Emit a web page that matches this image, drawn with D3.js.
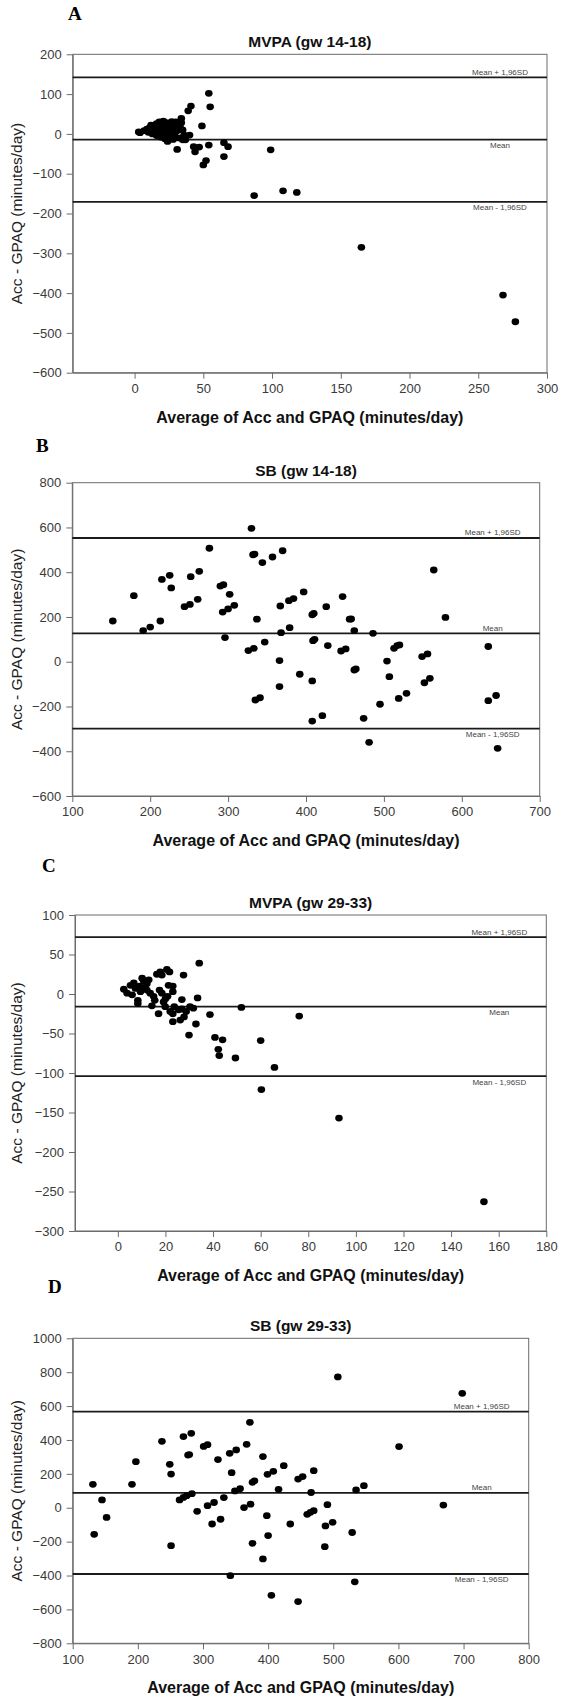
<!DOCTYPE html>
<html><head><meta charset="utf-8">
<script src="https://cdn.jsdelivr.net/npm/d3@7"></script>
<style>html,body{margin:0;padding:0;background:#fff;} svg{display:block;font-family:"Liberation Sans",Arial,sans-serif;}</style>
</head><body><svg id="chart" width="566" height="1701"></svg>
<script>
// ---- text ----
const panelLetters = ["A","B","C","D"];
const panelTitles = ["MVPA (gw 14-18)","SB (gw 14-18)","MVPA (gw 29-33)","SB (gw 29-33)"];
const xAxisLabel = "Average of Acc and GPAQ (minutes/day)";
const yAxisLabel = "Acc - GPAQ (minutes/day)";
const limitLabels = ["Mean + 1,96SD","Mean","Mean - 1,96SD"];

// ---- Panel A: MVPA gw 14-18 ----
const aAvg = [3,4,7,9,10,11,12,12,13,14,15,15,16,16,17,18,18,19,19,20,20,21,21,22,22,23,23,24,24,25,25,26,27,27,28,28,29,29,30,31,31,32,33,34,34,35,35,36,37,39,40,41,43,44,47,49,50,52,54,54,55,65,65,68,99,87,108,118,165,268,277];
const aDiff = [5,3,8,12,4,16,22,8,0,14,19,6,-4,26,12,30,2,18,-8,24,9,32,-2,15,-12,28,5,-19,20,10,-5,26,31,0,12,-14,20,-3,30,8,-39,-10,18,39,28,-15,10,-3,-15,58,-3,70,-32,-45,-33,20,-78,-67,-28,102,68,-22,-57,-32,-40,-155,-143,-147,-285,-405,-472];
const aLimits = [142,-14.5,-171];
const aXTicks = [0,50,100,150,200,250,300];
const aYTicks = [200,100,0,-100,-200,-300,-400,-500,-600];
const aXDomain = [-45,300];
const aYDomain = [-600,200];

// ---- Panel B: SB gw 14-18 ----
const bAvg = [152,179,191,200,213,215,225,227,244,251,252,263,261,276,290,294,302,293,300,308,296,330,332,334,344,357,370,337,347,326,333,335,341,366,366,367,368,379,378,384,397,408,410,409,411,426,428,392,408,408,421,447,445,451,456,458,462,462,464,474,481,486,495,504,507,513,517,520,519,529,549,556,552,559,564,579,634,634,644,646];
const bDiff = [182,295,139,155,182,368,386,330,246,256,380,404,279,507,338,344,301,222,236,252,108,596,478,481,443,468,496,190,88,50,60,-171,-161,5,-111,249,130,152,273,282,312,210,216,94,100,246,72,-56,-86,-265,-241,291,48,57,190,191,139,-37,-32,-253,-360,127,-190,3,-67,60,72,75,-164,-141,23,35,-94,-74,410,198,68,-174,-151,-387];
const bLimits = [553,127,-299];
const bXTicks = [100,200,300,400,500,600,700];
const bYTicks = [800,600,400,200,0,-200,-400,-600];
const bXDomain = [100,700];
const bYDomain = [-600,800];

// ---- Panel C: MVPA gw 29-33 ----
const cAvg = [2.5,3.9,5.3,6.7,6,7.4,8.4,8.4,9.5,10.2,10.9,12.2,13,12.2,13.6,14.3,15,16.4,17.8,18.5,17.5,18.5,17.1,19.2,19.9,20.6,21.7,21.3,23.1,20.9,22,23.1,23.7,23.1,23.1,26.9,27.6,26.9,28.7,26.2,27.8,30.3,31.7,32.8,33.5,34.2,29.9,38.7,40.8,44,42.2,42.6,49.4,51.9,60,65.8,60.3,76.2,92.9,153.8,11,15.5,20,25.5,9];
const cDiff = [6,1,11,14,-1,7,-8,-12,3,20,16,13,18,5,1,-15,-3,25,28,24,5,1,-25,-10,-16,31,28,11,10,-3,-22,-25,-16,-35,3,-7,24,-19,-22,-33,-29,-16,-18,-38,-5,39,-52,-26,-55,-58,-70,-78,-81,-17,-59,-93,-121,-28,-157,-263,8,-8,-6,-20,10];
const cLimits = [72,-16,-104];
const cXTicks = [0,20,40,60,80,100,120,140,160,180];
const cYTicks = [100,50,0,-50,-100,-150,-200,-250,-300];
const cXDomain = [-18,180];
const cYDomain = [-300,100];

// ---- Panel D: SB gw 29-33 ----
const dAvg = [131,133,145,152,191,197,237,249,251,251,270,282,277,279,264,270,275,283,291,301,307,307,317,323,314,327,332,341,351,344,342,349,357,363,373,367,372,376,379,376,392,398,400,392,399,408,416,405,424,434,446,453,446,470,466,460,465,470,491,488,499,487,529,535,547,533,601,507,698,669];
const dDiff = [138,-157,46,-57,138,272,392,256,199,-224,420,439,311,314,46,61,71,83,-21,362,372,12,31,284,-96,-68,60,321,341,207,-401,99,112,1,21,374,504,150,159,-210,302,-47,-164,-302,197,215,109,-517,248,-96,169,184,-554,219,90,-39,-27,-17,18,-107,-86,-230,-146,105,130,-437,361,772,675,16];
const dLimits = [567,88,-391];
const dXTicks = [100,200,300,400,500,600,700,800];
const dYTicks = [1000,800,600,400,200,0,-200,-400,-600,-800];
const dXDomain = [100,800];
const dYDomain = [-800,1000];

// ---- layout (pixel frames of each panel) ----
const panels = [
  {avg:aAvg, diff:aDiff, limits:aLimits, xTicks:aXTicks, yTicks:aYTicks, xDomain:aXDomain, yDomain:aYDomain,
   left:72.7, right:547, top:54.3, bottom:372.7, letterX:68, letterY:19.5, meanBelow:true},
  {avg:bAvg, diff:bDiff, limits:bLimits, xTicks:bXTicks, yTicks:bYTicks, xDomain:bXDomain, yDomain:bYDomain,
   left:72.3, right:539.7, top:482.7, bottom:796, letterX:36, letterY:451.7, meanBelow:false},
  {avg:cAvg, diff:cDiff, limits:cLimits, xTicks:cXTicks, yTicks:cYTicks, xDomain:cXDomain, yDomain:cYDomain,
   left:75, right:546.3, top:915, bottom:1231, letterX:42, letterY:872, meanBelow:true},
  {avg:dAvg, diff:dDiff, limits:dLimits, xTicks:dXTicks, yTicks:dYTicks, xDomain:dXDomain, yDomain:dYDomain,
   left:72.7, right:528.7, top:1338.3, bottom:1643.3, letterX:48, letterY:1293, meanBelow:false}
];

const svg = d3.select("#chart");
svg.append("rect").attr("width",566).attr("height",1701).attr("fill","#fff");

panels.forEach((p, i) => {
  const g = svg.append("g");
  const x = d3.scaleLinear().domain(p.xDomain).range([p.left, p.right]);
  const y = d3.scaleLinear().domain(p.yDomain).range([p.bottom, p.top]);

  g.append("text").attr("x", p.letterX).attr("y", p.letterY)
    .attr("font-family", "'Liberation Serif','Times New Roman',serif")
    .attr("font-weight", "bold").attr("font-size", 19).attr("fill", "#000")
    .text(panelLetters[i]);

  g.append("text").attr("x", (p.left + p.right) / 2).attr("y", p.top - 7)
    .attr("text-anchor", "middle").attr("font-weight", "bold").attr("font-size", 15.5)
    .attr("fill", "#111").text(panelTitles[i]);

  g.append("rect").attr("x", p.left).attr("y", p.top)
    .attr("width", p.right - p.left).attr("height", p.bottom - p.top)
    .attr("fill", "none").attr("stroke", "#6b6b6b").attr("stroke-width", 1);

  const xa = g.append("g").attr("transform", `translate(0,${p.bottom})`)
    .call(d3.axisBottom(x).tickValues(p.xTicks).tickSize(6).tickSizeOuter(0).tickPadding(5).tickFormat(d3.format("d")));
  const ya = g.append("g").attr("transform", `translate(${p.left},0)`)
    .call(d3.axisLeft(y).tickValues(p.yTicks).tickSize(6).tickSizeOuter(0).tickPadding(5).tickFormat(d3.format("d")));
  [xa, ya].forEach(a => {
    a.select(".domain").attr("stroke", "#6b6b6b");
    a.selectAll(".tick line").attr("stroke", "#6b6b6b");
    a.selectAll(".tick text").attr("font-size", 13).attr("fill", "#3a3a3a")
      .attr("font-family", "'Liberation Sans',Arial,sans-serif");
  });

  g.append("text").attr("x", (p.left + p.right) / 2).attr("y", p.bottom + 50)
    .attr("text-anchor", "middle").attr("font-weight", "bold").attr("font-size", 16)
    .attr("fill", "#111").text(xAxisLabel);
  g.append("text")
    .attr("transform", `translate(22,${(p.top + p.bottom) / 2}) rotate(-90)`)
    .attr("text-anchor", "middle").attr("font-size", 15.5).attr("fill", "#222")
    .text(yAxisLabel);

  p.limits.forEach((v, k) => {
    g.append("line").attr("x1", p.left).attr("x2", p.right)
      .attr("y1", y(v)).attr("y2", y(v))
      .attr("stroke", "#1a1a1a").attr("stroke-width", 1.8);
    const below = (k === 2) || (k === 1 && p.meanBelow);
    g.append("text").attr("x", p.right - 47)
      .attr("y", below ? y(v) + 8.5 : y(v) - 2.5)
      .attr("text-anchor", "middle").attr("font-size", 8).attr("fill", "#444")
      .text(limitLabels[k]);
  });

  g.append("g").selectAll("ellipse").data(p.avg.map((a, j) => [a, p.diff[j]]))
    .join("ellipse")
    .attr("cx", d => x(d[0])).attr("cy", d => y(d[1]))
    .attr("rx", 3.8).attr("ry", 3.4).attr("fill", "#000");
});
</script>
</body></html>
